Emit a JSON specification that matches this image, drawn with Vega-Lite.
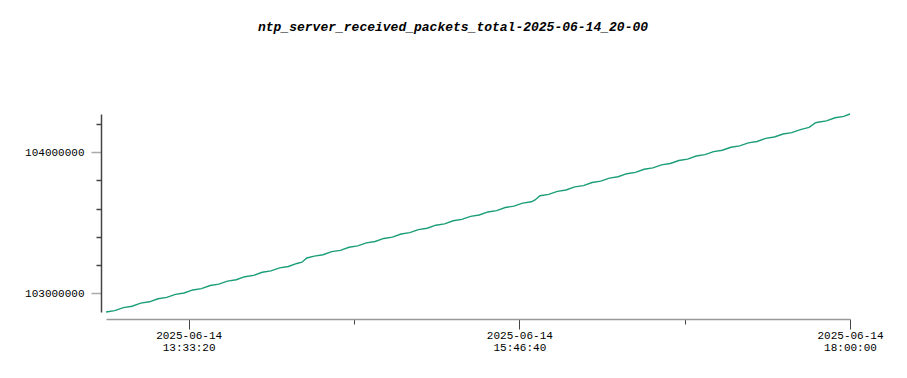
{
  "$schema": "https://vega.github.io/schema/vega-lite/v6.json",
  "width": 744,
  "height": 198,
  "autosize": "none",
  "padding": {"left": 106, "top": 114, "right": 57, "bottom": 66},
  "background": "white",
  "title": {
    "text": "ntp_server_received_packets_total-2025-06-14_20-00",
    "font": "Liberation Mono",
    "fontSize": 13,
    "fontWeight": "bold",
    "fontStyle": "italic",
    "color": "#000000",
    "anchor": "middle",
    "dx": -25,
    "offset": 77
  },
  "config": {"view": {"stroke": null}},
  "data": {
    "values": [
      {"time": "2025-06-14T13:00:00Z", "value": 102867500},
      {"time": "2025-06-14T13:03:30Z", "value": 102877100},
      {"time": "2025-06-14T13:07:00Z", "value": 102898800},
      {"time": "2025-06-14T13:10:30Z", "value": 102908400},
      {"time": "2025-06-14T13:14:00Z", "value": 102930000},
      {"time": "2025-06-14T13:17:30Z", "value": 102939700},
      {"time": "2025-06-14T13:21:00Z", "value": 102961300},
      {"time": "2025-06-14T13:24:30Z", "value": 102970900},
      {"time": "2025-06-14T13:28:00Z", "value": 102992500},
      {"time": "2025-06-14T13:31:30Z", "value": 103002200},
      {"time": "2025-06-14T13:35:00Z", "value": 103023800},
      {"time": "2025-06-14T13:38:30Z", "value": 103033400},
      {"time": "2025-06-14T13:42:00Z", "value": 103055100},
      {"time": "2025-06-14T13:45:30Z", "value": 103064700},
      {"time": "2025-06-14T13:49:00Z", "value": 103086300},
      {"time": "2025-06-14T13:52:30Z", "value": 103095900},
      {"time": "2025-06-14T13:56:00Z", "value": 103117600},
      {"time": "2025-06-14T13:59:30Z", "value": 103127200},
      {"time": "2025-06-14T14:03:00Z", "value": 103148900},
      {"time": "2025-06-14T14:06:30Z", "value": 103158500},
      {"time": "2025-06-14T14:10:00Z", "value": 103180100},
      {"time": "2025-06-14T14:13:30Z", "value": 103189800},
      {"time": "2025-06-14T14:17:00Z", "value": 103211400},
      {"time": "2025-06-14T14:19:00Z", "value": 103220300},
      {"time": "2025-06-14T14:21:00Z", "value": 103250200},
      {"time": "2025-06-14T14:24:00Z", "value": 103263600},
      {"time": "2025-06-14T14:27:30Z", "value": 103273300},
      {"time": "2025-06-14T14:31:00Z", "value": 103294900},
      {"time": "2025-06-14T14:34:30Z", "value": 103304500},
      {"time": "2025-06-14T14:38:00Z", "value": 103326200},
      {"time": "2025-06-14T14:41:30Z", "value": 103335800},
      {"time": "2025-06-14T14:45:00Z", "value": 103357400},
      {"time": "2025-06-14T14:48:30Z", "value": 103367100},
      {"time": "2025-06-14T14:52:00Z", "value": 103388700},
      {"time": "2025-06-14T14:55:30Z", "value": 103398300},
      {"time": "2025-06-14T14:59:00Z", "value": 103420000},
      {"time": "2025-06-14T15:02:30Z", "value": 103429600},
      {"time": "2025-06-14T15:06:00Z", "value": 103451200},
      {"time": "2025-06-14T15:09:30Z", "value": 103460800},
      {"time": "2025-06-14T15:13:00Z", "value": 103482500},
      {"time": "2025-06-14T15:16:30Z", "value": 103492100},
      {"time": "2025-06-14T15:20:00Z", "value": 103513700},
      {"time": "2025-06-14T15:23:30Z", "value": 103523400},
      {"time": "2025-06-14T15:27:00Z", "value": 103545000},
      {"time": "2025-06-14T15:30:30Z", "value": 103554600},
      {"time": "2025-06-14T15:34:00Z", "value": 103576300},
      {"time": "2025-06-14T15:37:30Z", "value": 103585900},
      {"time": "2025-06-14T15:41:00Z", "value": 103607500},
      {"time": "2025-06-14T15:44:30Z", "value": 103617200},
      {"time": "2025-06-14T15:48:00Z", "value": 103638800},
      {"time": "2025-06-14T15:51:30Z", "value": 103648400},
      {"time": "2025-06-14T15:53:00Z", "value": 103661100},
      {"time": "2025-06-14T15:55:00Z", "value": 103691100},
      {"time": "2025-06-14T15:58:30Z", "value": 103700700},
      {"time": "2025-06-14T16:02:00Z", "value": 103722300},
      {"time": "2025-06-14T16:05:30Z", "value": 103731900},
      {"time": "2025-06-14T16:09:00Z", "value": 103753600},
      {"time": "2025-06-14T16:12:30Z", "value": 103763200},
      {"time": "2025-06-14T16:16:00Z", "value": 103784800},
      {"time": "2025-06-14T16:19:30Z", "value": 103794500},
      {"time": "2025-06-14T16:23:00Z", "value": 103816100},
      {"time": "2025-06-14T16:26:30Z", "value": 103825700},
      {"time": "2025-06-14T16:30:00Z", "value": 103847400},
      {"time": "2025-06-14T16:33:30Z", "value": 103857000},
      {"time": "2025-06-14T16:37:00Z", "value": 103878600},
      {"time": "2025-06-14T16:40:30Z", "value": 103888300},
      {"time": "2025-06-14T16:44:00Z", "value": 103909900},
      {"time": "2025-06-14T16:47:30Z", "value": 103919500},
      {"time": "2025-06-14T16:51:00Z", "value": 103941100},
      {"time": "2025-06-14T16:54:30Z", "value": 103950800},
      {"time": "2025-06-14T16:58:00Z", "value": 103972400},
      {"time": "2025-06-14T17:01:30Z", "value": 103982000},
      {"time": "2025-06-14T17:05:00Z", "value": 104003700},
      {"time": "2025-06-14T17:08:30Z", "value": 104013300},
      {"time": "2025-06-14T17:12:00Z", "value": 104034900},
      {"time": "2025-06-14T17:15:30Z", "value": 104044600},
      {"time": "2025-06-14T17:19:00Z", "value": 104066200},
      {"time": "2025-06-14T17:22:30Z", "value": 104075800},
      {"time": "2025-06-14T17:26:00Z", "value": 104097500},
      {"time": "2025-06-14T17:29:30Z", "value": 104107100},
      {"time": "2025-06-14T17:33:00Z", "value": 104128700},
      {"time": "2025-06-14T17:36:30Z", "value": 104138400},
      {"time": "2025-06-14T17:40:00Z", "value": 104160000},
      {"time": "2025-06-14T17:43:30Z", "value": 104175600},
      {"time": "2025-06-14T17:46:00Z", "value": 104207800},
      {"time": "2025-06-14T17:47:00Z", "value": 104212200},
      {"time": "2025-06-14T17:50:30Z", "value": 104221900},
      {"time": "2025-06-14T17:54:00Z", "value": 104243500},
      {"time": "2025-06-14T17:57:30Z", "value": 104253100},
      {"time": "2025-06-14T18:00:00Z", "value": 104270300}
    ]
  },
  "mark": {"type": "line", "color": "#1b9e77", "strokeWidth": 1.4},
  "encoding": {
    "x": {
      "field": "time",
      "type": "temporal",
      "scale": {"type": "utc", "nice": false},
      "axis": {
        "title": null,
        "offset": 7,
        "grid": false,
        "values": [1749908000000, 1749912000000, 1749916000000, 1749920000000, 1749924000000],
        "labelExpr": "(datum.index * 4) % 2 === 0 ? [utcFormat(datum.value, '%Y-%m-%d'), utcFormat(datum.value, '%H:%M:%S')] : ''",
        "labelFont": "Liberation Mono",
        "labelFontSize": 11,
        "labelColor": "#000000",
        "labelLineHeight": 12,
        "labelPadding": 0,
        "labelFlush": false,
        "labelOverlap": false,
        "labelBound": false,
        "tickSize": {"condition": {"test": "(datum.index * 4) % 2 === 0", "value": 10}, "value": 5},
        "tickColor": "#444444",
        "tickWidth": 1,
        "domainColor": "#999999",
        "domainWidth": 1.5
      }
    },
    "y": {
      "field": "value",
      "type": "quantitative",
      "scale": {"zero": false, "nice": false},
      "axis": {
        "title": null,
        "offset": 5,
        "grid": false,
        "values": [103000000, 103200000, 103400000, 103600000, 103800000, 104000000, 104200000],
        "labelExpr": "datum.value % 1000000 === 0 ? format(datum.value, 'd') : ''",
        "labelFont": "Liberation Mono",
        "labelFontSize": 11,
        "labelColor": "#000000",
        "labelPadding": 7,
        "labelOverlap": false,
        "tickSize": {"condition": {"test": "datum.value % 1000000 === 0", "value": 10}, "value": 5},
        "tickColor": {"condition": {"test": "datum.value % 1000000 === 0", "value": "#aaaaaa"}, "value": "#444444"},
        "tickWidth": 1.5,
        "domainColor": "#444444",
        "domainWidth": 1.5
      }
    }
  }
}
